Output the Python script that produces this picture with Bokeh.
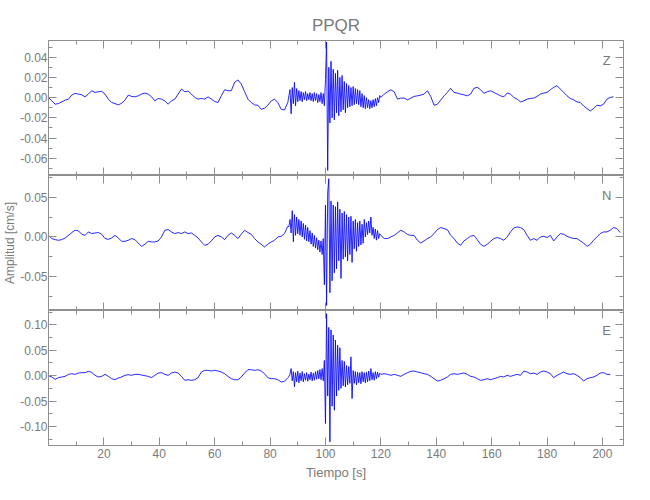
from bokeh.plotting import figure
from bokeh.models import Range1d, FixedTicker, LinearAxis, Label
from bokeh.layouts import column
from bokeh.embed import file_html
from bokeh.resources import INLINE

# ---------------- data ----------------
title_text = "PPQR"
x_title = "Tiempo [s]"
y_title = "Amplitud [cm/s]"
components = ["Z", "N", "E"]

# sample times [s]
t_pre = [0.0, 1.2, 2.4, 3.6, 4.8, 6.0, 7.2, 8.4, 9.6, 10.8, 12.0, 13.2, 14.4, 15.6, 16.8,
         18.0, 19.2, 20.4, 21.6, 22.8, 24.0, 25.2, 26.4, 27.6, 28.8, 30.0, 31.2, 32.4, 33.6,
         34.8, 36.0, 37.2, 38.4, 39.6, 40.8, 42.0, 43.2, 44.4, 45.6, 46.8, 48.0, 49.2, 50.4,
         51.6, 52.8, 54.0, 55.2, 56.4, 57.6, 58.8, 60.0, 61.2, 62.4, 63.6, 64.8, 66.0, 67.2,
         68.4, 69.6, 70.8, 72.0, 73.2, 74.4, 75.6, 76.8, 78.0, 79.2, 80.4, 81.6, 82.8, 84.0,
         85.2, 86.4]
t_burst = [86.8, 87.2, 87.6, 88.0, 88.4, 88.8, 89.2, 89.6, 90.0, 90.4, 90.8, 91.2, 91.6,
           92.0, 92.4, 92.8, 93.2, 93.6, 94.0, 94.4, 94.8, 95.2, 95.6, 96.0, 96.4, 96.8,
           97.2, 97.6, 98.0, 98.4, 98.8, 99.2, 99.6, 100.0, 100.4, 100.8, 101.2, 101.6,
           102.0, 102.4, 102.8, 103.2, 103.6, 104.0, 104.4, 104.8, 105.2, 105.6, 106.0,
           106.4, 106.8, 107.2, 107.6, 108.0, 108.4, 108.8, 109.2, 109.6, 110.0, 110.4,
           110.8, 111.2, 111.6, 112.0, 112.4, 112.8, 113.2, 113.6, 114.0, 114.4, 114.8,
           115.2, 115.6, 116.0, 116.4, 116.8, 117.2, 117.6, 118.0, 118.4, 118.8, 119.2, 119.6]
t_post = [120.0, 121.2, 122.4, 123.6, 124.8, 126.0, 127.2, 128.4, 129.6, 130.8, 132.0,
          133.2, 134.4, 135.6, 136.8, 138.0, 139.2, 140.4, 141.6, 142.8, 144.0, 145.2,
          146.4, 147.6, 148.8, 150.0, 151.2, 152.4, 153.6, 154.8, 156.0, 157.2, 158.4,
          159.6, 160.8, 162.0, 163.2, 164.4, 165.6, 166.8, 168.0, 169.2, 170.4, 171.6,
          172.8, 174.0, 175.2, 176.4, 177.6, 178.8, 180.0, 181.2, 182.4, 183.6, 184.8,
          186.0, 187.2, 188.4, 189.6, 190.8, 192.0, 193.2, 194.4, 195.6, 196.8, 198.0,
          199.2, 200.4, 201.6, 202.8, 204.0, 205.2, 206.4]

# amplitudes in units of 0.001 cm/s
z_pre = [0.0, -3.2, -6.5, -5.8, -4.2, -2.5, -1.5, 2.5, 4.2, 3.5,
         2.8, 0.8, 3.5, 6.8, 5.2, 5.8, 6.2, 3.5, -1.5, -4.8,
         -5.8, -7.2, -5.5, -2.5, 2.5, 1.2, 0.8, 1.8, 3.5, 4.5,
         3.5, 0.8, -3.2, -0.8, -1.5, -3.2, -6.5, -3.2, -1.5, 3.5,
         8.5, 5.8, 6.5, 3.5, 0.2, -1.5, -0.8, -1.5, 0.8, -1.5,
         -3.8, -4.8, 1.8, 7.8, 6.8, 6.8, 15.2, 17.5, 13.5, 5.8,
         -1.5, -4.8, -7.2, -7.5, -11.5, -10.5, -7.5, -3.2, -1.5, -4.8,
         -11.5, -12.2, -4.8]
z_burst = [2, 8, -16, 10, -6, 15, -8, 9, -4, 7,
           -3, 6, -4, 5, -2, 6, -3, 4, -2, 5,
           -3, 4, -4, 5, -3, 4, -5, 3, -4, 5,
           -6, 4, -8, 18, 55, -72, 30, -25, 36, -20,
           28, -22, 24, -15, 27, -18, 20, -14, 22, -12,
           16, -15, 14, -10, 12, -9, 10, -8, 11, -7,
           9, -6, 8, -7, 7, -9, 4, -10, 2, -11,
           0, -10, -2, -11, -3, -10, -2, -9, -1, -8,
           0, -5, 2]
z_post = [0.2, 3.5, 5.8, 7.8, 5.8, -1.5, -0.5, -0.5, -2.2, -0.5,
          1.2, 1.8, 2.5, 3.5, 6.8, 1.2, -7.5, -6.5, -2.5, 1.8,
          5.2, 9.2, 5.2, 4.5, 3.5, 2.8, 1.8, 3.5, 9.2, 10.2,
          7.8, 4.2, 5.8, 6.8, 5.2, 3.5, 1.8, 0.8, 4.5, 3.5,
          0.2, -1.5, -4.2, -3.2, -1.5, -0.8, -0.5, 1.2, 3.5, 4.5,
          5.2, 7.8, 10.2, 11.8, 8.5, 5.2, 1.8, -0.8, -2.2, -4.2,
          -4.8, -8.2, -10.8, -13.2, -10.8, -7.5, -8.2, -6.5, -1.5, 0.2,
          0.8]

n_pre = [2.0, -2.0, -3.4, -4.2, -3.4, -1.3, 2.0, 5.5, 8.4, 7.6,
         3.4, 2.0, 6.3, 4.2, 5.0, 5.5, 3.4, -2.0, -3.0, -1.3,
         2.0, -1.3, -5.5, -5.5, -4.2, -2.0, -3.4, -7.6, -11.8, -9.2,
         -5.5, -6.3, -6.3, -5.0, 0.0, 8.4, 9.2, 6.3, 4.2, 5.5,
         4.2, 6.3, 4.2, 5.0, 2.0, -1.3, -6.3, -10.5, -9.2, -5.0,
         0.0, 2.0, 0.0, -3.4, 2.0, 5.0, 2.0, -2.0, 3.4, 8.4,
         5.5, 3.4, -2.0, -6.3, -9.2, -12.6, -9.2, -6.3, -4.2, 0.0,
         0.8, 4.2, 13.4]
n_burst = [13, 22, 5, 33, -6, 28, 2, 25, 4, 22,
           2, 20, 0, 17, -3, 15, -5, 12, -6, 8,
           -9, 5, -12, 2, -14, -1, -16, -4, -19, -5,
           -22, -2, -60, 40, -86, 55, 73, -70, 45, -55,
           40, -45, 38, -40, 44, -30, 35, -52, 30, -28,
           32, -25, 28, -30, 25, -22, 26, -32, 20, -15,
           22, -18, 18, -12, 20, -10, 16, -8, 22, 0,
           18, 3, 20, 5, 25, 2, 12, -2, 10, -4,
           8, -2, 4]
n_post = [2.0, -2.0, -2.0, 0.0, 2.0, 5.0, 8.4, 6.3, 3.0, 2.0,
          2.0, -4.2, -7.6, -5.0, -2.0, 0.0, 4.2, 9.2, 11.8, 10.5,
          9.2, 2.0, -2.0, -7.6, -10.5, -5.0, -2.0, 0.8, 2.0, -3.4,
          -9.2, -11.8, -9.2, -5.5, -2.0, -0.8, -2.0, -4.2, 0.0, 6.3,
          11.3, 12.6, 11.8, 9.2, 2.0, -4.2, -2.0, -4.2, 0.0, 0.8,
          -0.8, 2.0, -5.0, 0.0, 4.2, 3.4, 0.8, -0.8, -2.0, -2.0,
          -5.0, -7.6, -11.8, -9.2, -4.2, 0.0, 4.2, 6.3, 6.3, 8.4,
          11.8, 10.5, 5.5]

e_pre = [0.0, -2.6, -7.2, -3.9, -2.6, -1.3, 2.6, 3.9, 2.6, 5.2,
         5.9, 5.9, 8.5, 6.6, 0.7, -2.6, -1.3, 2.6, -1.3, -5.9,
         -7.9, -4.6, -2.6, 0.7, 2.0, 0.7, 2.6, 2.6, 1.3, 0.0,
         -1.3, -3.9, 0.7, 5.2, 5.9, 2.6, 0.7, 5.2, 7.2, 5.2,
         -1.3, -9.2, -7.9, -9.2, -7.9, -3.9, 7.2, 10.5, 10.5, 9.2,
         10.5, 9.2, 7.2, 3.9, -1.3, -5.9, -7.9, -7.9, -2.6, 5.2,
         11.8, 11.8, 10.5, 11.8, 9.2, 3.9, -3.9, -5.9, -5.9, -7.9,
         -12.5, -11.2, -3.9]
e_burst = [-2, 3, 14, -10, 8, -22, 6, -12, 9, -14,
           5, -10, 8, -12, 4, -9, 6, -11, 3, -8,
           7, -10, 5, -9, 8, -7, 10, -6, 12, -8,
           14, -10, 30, -94, 122, -40, 95, -130, 90, -60,
           80, -68, 70, -40, 60, -29, 55, -25, 30, -20,
           28, -22, 20, -18, 18, -15, 37, -45, 10, -15,
           8, -18, 7, -14, 6, -16, 8, -12, 6, -14,
           7, -12, 9, -10, 14, -8, 6, -9, 8, -6,
           7, -3, 5]
e_post = [2.6, 3.9, 2.6, 0.7, 2.6, 0.7, -1.3, 2.6, 5.9, 8.5,
          9.2, 7.2, 5.9, 3.9, 2.6, -1.3, -5.9, -10.5, -9.2, -5.9,
          -2.6, 2.6, 3.9, 2.6, 3.9, 5.2, 2.6, -1.3, -2.6, -5.9,
          -9.2, -7.9, -5.9, -7.9, -5.9, -3.9, -1.3, -2.6, 0.7, -1.3,
          0.7, 2.6, 0.7, 9.2, 7.2, 3.9, 5.2, 2.6, 7.2, 9.2,
          7.2, 3.9, -3.9, 0.7, 3.9, 7.2, 3.9, 2.6, 3.9, 0.7,
          -3.9, -10.5, -5.9, -3.9, -2.6, 0.7, 5.2, 5.9, 2.6, 2.6]

# tick positions
x_major_ticks = [20, 40, 60, 80, 100, 120, 140, 160, 180, 200]
x_minor_ticks = [10, 20, 30, 40, 50, 60, 70, 80, 90, 100, 110, 120, 130, 140, 150,
                 160, 170, 180, 190, 200]
z_major_ticks = [-0.06, -0.04, -0.02, 0.0, 0.02, 0.04]
z_minor_ticks = [-0.07, -0.05, -0.03, -0.01, 0.01, 0.03, 0.05]
n_major_ticks = [-0.05, 0.0, 0.05]
n_minor_ticks = [-0.075, -0.025, 0.025, 0.075]
e_major_ticks = [-0.10, -0.05, 0.0, 0.05, 0.10]
e_minor_ticks = [-0.125, -0.075, -0.025, 0.025, 0.075, 0.125]

# axis limits
x_limits = (0.0, 207.6)
z_limits = (-0.077, 0.0565)
n_limits = (-0.0923, 0.0771)
e_limits = (-0.1373, 0.1282)

# ---------------- style ----------------
FONT = "Liberation Sans"
TEXT = "#7a7a7a"
LINE = "#8f8f8f"
TRACE = "#0000ff"
FRAME_W, FRAME_H = 575, 135
LEFT = 48
TOP = 40


def fmt(v):
    s = f"{v:.2f}"
    if s == "-0.00":
        s = "0.00"
    return s


def style_axis(ax, labelled):
    ax.major_tick_in = 8
    ax.major_tick_out = 0
    ax.minor_tick_in = 4
    ax.minor_tick_out = 0
    ax.axis_line_color = LINE
    ax.major_tick_line_color = LINE
    ax.minor_tick_line_color = LINE
    if labelled:
        ax.major_label_text_font = FONT
        ax.major_label_text_font_size = "12px"
        ax.major_label_text_color = TEXT
        ax.major_label_standoff = 1
    else:
        ax.major_label_text_font_size = "0px"
        ax.major_label_standoff = 0
        ax.major_label_text_alpha = 0


def build(idx, name, pre, burst, post, limits, major, minor):
    first = idx == 0
    last = idx == 2
    p = figure(frame_width=FRAME_W, frame_height=FRAME_H,
               x_range=Range1d(*x_limits), y_range=Range1d(*limits),
               x_axis_type=None, y_axis_type=None,
               output_backend="svg", toolbar_location=None,
               min_border_left=LEFT, min_border_right=10,
               min_border_top=TOP if first else 0, min_border_bottom=0,
               title=title_text if first else None)
    p.outline_line_color = LINE
    p.background_fill_color = "white"
    p.border_fill_color = "white"
    if first:
        p.title.align = "center"
        p.title.text_font = FONT
        p.title.text_font_size = "17px"
        p.title.text_font_style = "normal"
        p.title.text_color = TEXT
        p.title.standoff = 12

    left = LinearAxis(ticker=FixedTicker(ticks=major, minor_ticks=minor),
                      major_label_overrides={v: fmt(v) for v in major})
    style_axis(left, True)
    if idx == 1:
        left.axis_label = y_title
        left.axis_label_text_font = FONT
        left.axis_label_text_font_size = "12px"
        left.axis_label_text_font_style = "normal"
        left.axis_label_text_color = TEXT
        left.axis_label_standoff = 0
    p.add_layout(left, "left")
    right = LinearAxis(ticker=FixedTicker(ticks=major, minor_ticks=minor))
    style_axis(right, False)
    p.add_layout(right, "right")

    top = LinearAxis(ticker=FixedTicker(ticks=x_major_ticks, minor_ticks=x_minor_ticks))
    style_axis(top, False)
    p.add_layout(top, "above")
    bottom = LinearAxis(ticker=FixedTicker(ticks=x_major_ticks, minor_ticks=x_minor_ticks))
    style_axis(bottom, last)
    if last:
        bottom.major_label_standoff = 3
        bottom.axis_label = x_title
        bottom.axis_label_text_font = FONT
        bottom.axis_label_text_font_size = "13px"
        bottom.axis_label_text_font_style = "normal"
        bottom.axis_label_text_color = TEXT
        bottom.axis_label_standoff = 4
    p.add_layout(bottom, "below")

    t = t_pre + t_burst + t_post[:len(post)]
    v = [a * 0.001 for a in pre + burst + post]
    p.line(x=t, y=v, line_color=TRACE, line_width=1, line_alpha=0.85)

    lo, hi = limits
    p.add_layout(Label(x=201.5, y=hi - (hi - lo) * 0.15, text=name,
                       text_align="center", text_baseline="middle",
                       text_font=FONT, text_font_size="13px", text_color=TEXT))
    return p


p1 = build(0, components[0], z_pre, z_burst, z_post, z_limits, z_major_ticks, z_minor_ticks)
p2 = build(1, components[1], n_pre, n_burst, n_post, n_limits, n_major_ticks, n_minor_ticks)
p3 = build(2, components[2], e_pre, e_burst, e_post, e_limits, e_major_ticks, e_minor_ticks)

layout = column(p1, p2, p3, spacing=0)
open("out.html", "w").write(file_html(layout, INLINE, title=title_text))
